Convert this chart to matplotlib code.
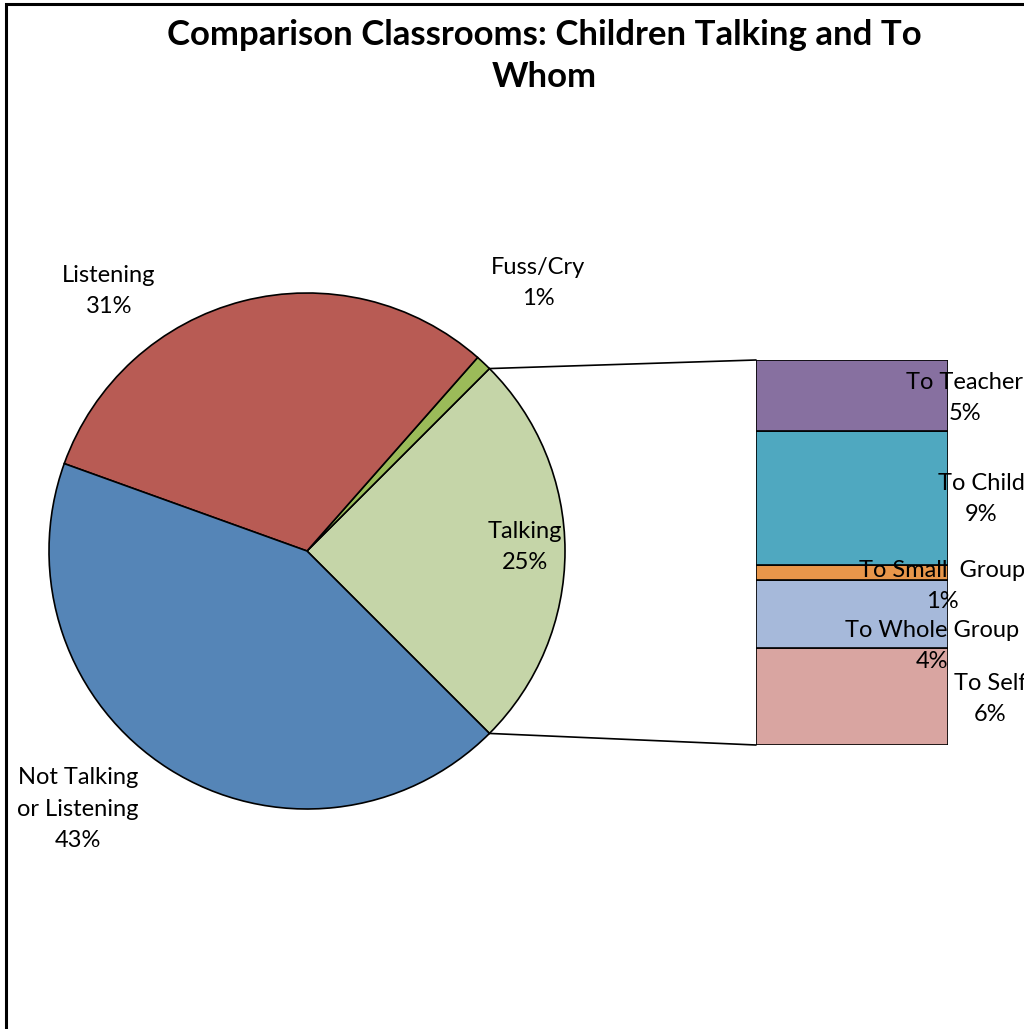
import numpy as np
import matplotlib.pyplot as plt
from matplotlib.patches import Rectangle, ConnectionPatch

plt.rcParams['font.family'] = ['Lato', 'DejaVu Sans']

# Main pie data (percent)
pie_labels = ['Talking', 'Fuss/Cry', 'Listening', 'Not Talking\nor Listening']
pie_values = [25, 1, 31, 43]
pie_colors = ['#C5D5A8', '#9BBB59', '#B85B54', '#5585B7']

# Breakdown of "Talking" (percent of all)
bar_labels = ['To Self', 'To Whole Group', 'To Small  Group', 'To Child', 'To Teacher']
bar_values = [6.3, 4.4, 1.0, 8.7, 4.6]
bar_colors = ['#D9A5A1', '#A6B9DA', '#E8964A', '#4FA8C0', '#8770A0']

W, H = 1024, 1029
fig = plt.figure(figsize=(W / 100, H / 100), dpi=100)
ax = fig.add_axes([0, 0, 1, 1])
ax.set_xlim(0, W)
ax.set_ylim(0, H)
ax.set_aspect('equal')
ax.axis('off')

# outer chart border (right/bottom edges fall outside the image)
ax.add_patch(Rectangle((6, -20), W + 40, H - 4 + 20, fill=False,
                       edgecolor='black', linewidth=2.2, clip_on=False))

ax.text(544, H - 35, 'Comparison Classrooms: Children Talking and To',
        ha='center', va='center', fontsize=25, fontweight='bold')
ax.text(544, H - 77, 'Whom', ha='center', va='center', fontsize=25, fontweight='bold')

cx, cy, r = 307, H - 551, 258
ax.pie(pie_values, colors=pie_colors, startangle=-45, counterclock=True,
       center=(cx, cy), radius=r, frame=True,
       wedgeprops=dict(edgecolor='black', linewidth=1.2))
ax.set_xlim(0, W)
ax.set_ylim(0, H)
ax.axis('off')

pie_text_pos = [(525, 547), (538, 283), (109, 291), (78, 809)]
for lab, v, (x, y) in zip(pie_labels, pie_values, pie_text_pos):
    ax.text(x, H - y, f'{lab}\n{v}%', ha='center', va='center', fontsize=17,
            linespacing=1.6)

# bar of pie
bx0, bx1, by0, by1 = 756, 948, 360, 745
bax = fig.add_axes([bx0 / W, 1 - by1 / H, (bx1 - bx0) / W, (by1 - by0) / H])
bottom = 0
for v, c in zip(bar_values, bar_colors):
    bax.bar(0, v, bottom=bottom, width=1, color=c, edgecolor='black', linewidth=1.2)
    bottom += v
bax.set_xlim(-0.5, 0.5)
bax.set_ylim(0, sum(bar_values))
bax.axis('off')

bar_text_pos = [(990, 699), (932, 646), (942, 586), (981, 499), (965, 398)]
for lab, v, (x, y) in zip(bar_labels, bar_values, bar_text_pos):
    fig.text(x / W, 1 - y / H, f'{lab}\n{int(v + 0.5)}%', ha='center', va='center',
             fontsize=17, linespacing=1.6)

# connector lines from the Talking wedge to the bar
for ang, yb in [(45, 1), (-45, 0)]:
    px = cx + r * np.cos(np.radians(ang))
    py = cy + r * np.sin(np.radians(ang))
    con = ConnectionPatch(xyA=(px, py), coordsA=ax.transData,
                          xyB=(0, yb), coordsB=bax.transAxes,
                          color='black', linewidth=1.2)
    fig.add_artist(con)

fig.savefig('out.png', dpi=100)
